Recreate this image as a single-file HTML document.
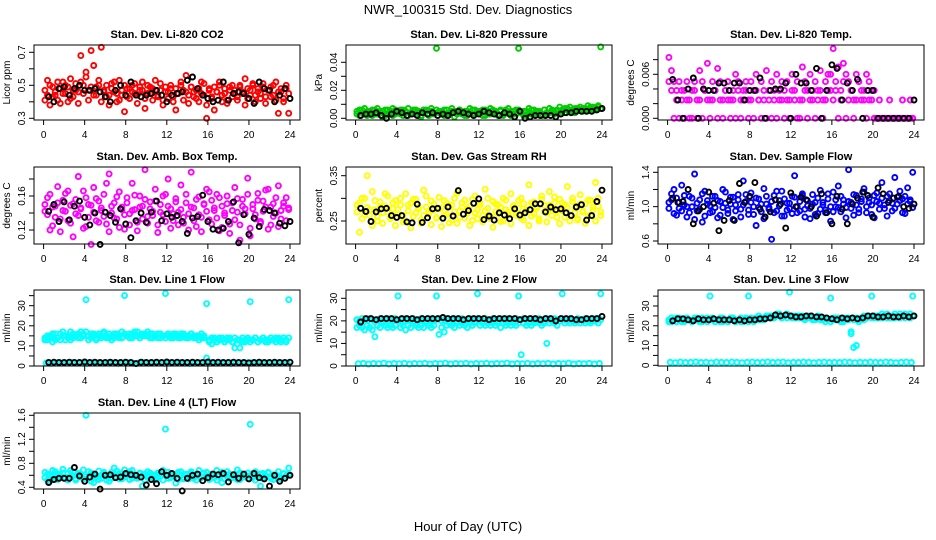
<!DOCTYPE html>
<html><head><meta charset="utf-8">
<style>
html,body{margin:0;padding:0;background:#fff;}
svg{display:block;font-family:"Liberation Sans",Arial,sans-serif;}
</style></head>
<body>
<svg id="chart" width="936" height="540" viewBox="0 0 936 540">
<rect width="936" height="540" fill="#fff"/>
<text x="468" y="14" text-anchor="middle" font-size="13">NWR_100315  Std. Dev. Diagnostics</text>
<text x="468" y="531" text-anchor="middle" font-size="13">Hour of Day (UTC)</text>
</svg>
<script>
const xTicks = [0,4,8,12,16,20,24];
const co2A=[0.47,0.44,0.50,0.43,0.46,0.41,0.48,0.52,0.45,0.49,0.42,0.47,0.51,0.46,0.68,0.50,0.55,0.47,0.71,0.44,0.49,0.53,0.73,0.46,0.50,0.44,0.48,0.52,0.45,0.41,0.47,0.50,0.43,0.48,0.46,0.51,0.44,0.49,0.47,0.42,0.50,0.45,0.48,0.53,0.44,0.47,0.41,0.49,0.46,0.50,0.43,0.48,0.45,0.52,0.47,0.56,0.44,0.49,0.46,0.42,0.48,0.45,0.51,0.30,0.47,0.43,0.49,0.46,0.52,0.44,0.48,0.41,0.47,0.50,0.45,0.43,0.49,0.46,0.54,0.42,0.47,0.50,0.44,0.48,0.45,0.51,0.43,0.47,0.49,0.44,0.52,0.46,0.48,0.42,0.50,0.45];
const co2B=[0.41,0.53,0.38,0.49,0.44,0.52,0.39,0.45,0.50,0.40,0.54,0.43,0.47,0.39,0.52,0.45,0.58,0.41,0.49,0.62,0.44,0.50,0.40,0.47,0.43,0.38,0.51,0.46,0.40,0.53,0.44,0.34,0.48,0.42,0.50,0.45,0.39,0.47,0.52,0.36,0.45,0.49,0.41,0.47,0.43,0.51,0.38,0.46,0.42,0.48,0.40,0.35,0.45,0.50,0.41,0.46,0.39,0.49,0.43,0.47,0.40,0.52,0.44,0.38,0.48,0.42,0.35,0.46,0.50,0.40,0.45,0.39,0.49,0.43,0.47,0.41,0.50,0.45,0.38,0.48,0.44,0.51,0.40,0.46,0.42,0.49,0.39,0.47,0.43,0.50,0.41,0.33,0.46,0.40,0.48,0.33];
const co2K=[0.43,0.40,0.48,0.49,0.44,0.48,0.50,0.47,0.47,0.48,0.46,0.43,0.40,0.47,0.50,0.44,0.52,0.44,0.43,0.44,0.45,0.47,0.44,0.40,0.44,0.45,0.46,0.53,0.55,0.48,0.44,0.42,0.40,0.41,0.52,0.41,0.45,0.46,0.45,0.42,0.39,0.52,0.48,0.47,0.40,0.44,0.48,0.42];
const presA=[0.003,0.006,0.004,0.007,0.002,0.005,0.006,0.003,0.007,0.004,0.005,0.002,0.006,0.004,0.007,0.003,0.005,0.006,0.002,0.004,0.007,0.003,0.005,0.006,0.004,0.002,0.006,0.005,0.003,0.007,0.004,0.050,0.005,0.003,0.006,0.002,0.004,0.007,0.005,0.003,0.006,0.004,0.002,0.005,0.007,0.003,0.006,0.004,0.005,0.002,0.006,0.003,0.007,0.004,0.005,0.003,0.006,0.002,0.004,0.007,0.005,0.003,0.006,0.050,0.004,0.002,0.005,0.007,0.003,0.006,0.004,0.005,0.003,0.006,0.004,0.007,0.005,0.004,0.006,0.008,0.005,0.007,0.006,0.008,0.005,0.007,0.006,0.008,0.007,0.006,0.009,0.007,0.008,0.006,0.009,0.051];
const presB=[0.005,0.002,0.006,0.003,0.005,0.004,0.002,0.006,0.003,0.005,0.001,0.006,0.003,0.005,0.002,0.006,0.004,0.003,0.006,0.005,0.002,0.004,0.006,0.003,0.005,0.001,0.004,0.006,0.002,0.005,0.003,0.006,0.004,0.005,0.002,0.006,0.003,0.005,0.001,0.004,0.006,0.003,0.005,0.002,0.004,0.006,0.003,0.005,0.004,0.006,0.002,0.005,0.003,0.006,0.004,0.002,0.005,0.003,0.006,0.004,0.002,0.005,0.003,0.006,0.004,0.005,0.002,0.004,0.006,0.003,0.005,0.004,0.002,0.006,0.003,0.004,0.006,0.003,0.005,0.004,0.006,0.004,0.007,0.005,0.006,0.004,0.007,0.006,0.005,0.007,0.006,0.008,0.006,0.007,0.008,0.007];
const presK=[0.002,0.003,0.003,0.004,0.002,0.000,0.003,0.005,0.004,0.002,0.003,0.002,0.004,0.003,0.004,0.002,0.003,0.002,0.004,0.005,0.004,0.003,0.002,0.003,0.005,0.004,0.003,0.002,0.004,0.003,0.001,0.005,0.000,0.001,0.002,0.002,0.002,0.002,0.001,0.003,0.004,0.004,0.005,0.005,0.005,0.005,0.006,0.007];
const tempA=[0.0083,0.0065,0.0050,0.0038,0.0050,0.0025,0.0038,0.0050,0.0025,0.0038,0.0050,0.0025,0.0065,0.0050,0.0038,0.0075,0.0025,0.0050,0.0038,0.0068,0.0050,0.0025,0.0038,0.0050,0.0025,0.0038,0.0060,0.0050,0.0025,0.0038,0.0050,0.0025,0.0050,0.0038,0.0060,0.0025,0.0050,0.0038,0.0065,0.0025,0.0050,0.0038,0.0060,0.0025,0.0050,0.0038,0.0050,0.0025,0.0060,0.0038,0.0050,0.0025,0.0070,0.0050,0.0038,0.0060,0.0025,0.0050,0.0038,0.0065,0.0025,0.0050,0.0060,0.0038,0.0095,0.0050,0.0070,0.0038,0.0075,0.0060,0.0050,0.0038,0.0025,0.0060,0.0050,0.0038,0.0025,0.0060,0.0050,0.0025,0.0038,0,0.0025,0,0,0,0.0025,0,0,0,0,0,0,0,0.0025,0];
const tempB=[0.0050,0.0038,0,0.0025,0,0.0038,0,0.0025,0,0,0.0038,0,0.0025,0,0.0038,0.0025,0,0.0025,0.0038,0,0.0025,0,0.0038,0.0025,0,0.0025,0,0.0038,0,0.0025,0.0038,0,0.0025,0,0.0038,0.0025,0,0.0025,0,0.0038,0,0.0025,0,0.0038,0.0025,0,0.0025,0,0.0038,0.0025,0,0,0.0025,0.0038,0,0.0025,0.0038,0,0.0025,0.0038,0,0.0025,0.0038,0.0060,0.0025,0.0038,0,0.0025,0.0050,0,0.0025,0.0038,0,0.0025,0.0050,0.0025,0.0038,0,0.0025,0.0038,0,0,0,0,0,0,0,0,0,0,0,0.0025,0,0,0,0];
const tempK=[0.0053,0.0025,0,0.0040,0.0055,0,0.0040,0.0038,0.0038,0.0048,0.0048,0.0038,0.0048,0.0048,0.0025,0.0038,0.0038,0.0055,0,0.0038,0.0040,0.0040,0.0048,0,0.0060,0.0048,0.0048,0.0038,0.0068,0,0.0038,0.0073,0.0068,0.0025,0.0048,0.0038,0.0053,0,0.0038,0.0038,0,0,0,0,0,0,0,0.0025];
const ambA=[0.150,0.138,0.162,0.125,0.148,0.171,0.133,0.155,0.142,0.166,0.128,0.151,0.139,0.183,0.146,0.122,0.158,0.135,0.149,0.170,0.131,0.154,0.143,0.162,0.127,0.186,0.140,0.152,0.133,0.165,0.147,0.121,0.158,0.139,0.175,0.144,0.129,0.160,0.148,0.191,0.136,0.153,0.142,0.168,0.126,0.150,0.138,0.162,0.180,0.145,0.131,0.157,0.141,0.173,0.128,0.152,0.139,0.188,0.146,0.124,0.159,0.135,0.150,0.168,0.132,0.155,0.143,0.162,0.119,0.148,0.137,0.160,0.127,0.152,0.170,0.141,0.108,0.156,0.145,0.181,0.122,0.150,0.138,0.163,0.130,0.154,0.147,0.168,0.126,0.151,0.140,0.172,0.133,0.148,0.158,0.144];
const ambB=[0.142,0.158,0.120,0.147,0.135,0.152,0.118,0.143,0.163,0.131,0.149,0.112,0.156,0.137,0.145,0.166,0.124,0.150,0.103,0.141,0.157,0.129,0.146,0.136,0.175,0.118,0.148,0.134,0.159,0.123,0.144,0.138,0.152,0.126,0.143,0.161,0.119,0.147,0.133,0.156,0.128,0.145,0.137,0.154,0.117,0.141,0.160,0.130,0.148,0.122,0.139,0.153,0.126,0.144,0.135,0.162,0.120,0.147,0.131,0.156,0.138,0.118,0.151,0.142,0.165,0.127,0.146,0.134,0.158,0.123,0.140,0.151,0.116,0.143,0.132,0.157,0.126,0.148,0.139,0.162,0.113,0.145,0.133,0.155,0.128,0.142,0.167,0.121,0.147,0.136,0.158,0.124,0.143,0.152,0.131,0.146];
const ambK=[0.142,0.150,0.130,0.153,0.132,0.148,0.154,0.135,0.126,0.140,0.103,0.141,0.137,0.129,0.145,0.127,0.111,0.131,0.140,0.129,0.141,0.154,0.131,0.139,0.135,0.137,0.130,0.116,0.134,0.136,0.161,0.130,0.121,0.120,0.122,0.130,0.153,0.105,0.138,0.115,0.134,0.124,0.144,0.143,0.140,0.128,0.125,0.130];
const rhA=[0.270,0.290,0.255,0.300,0.280,0.262,0.315,0.275,0.250,0.292,0.268,0.283,0.305,0.258,0.277,0.295,0.265,0.285,0.248,0.310,0.272,0.289,0.260,0.298,0.276,0.252,0.318,0.281,0.266,0.294,0.274,0.256,0.302,0.279,0.263,0.290,0.246,0.285,0.270,0.312,0.258,0.280,0.296,0.267,0.283,0.251,0.305,0.274,0.290,0.262,0.320,0.278,0.255,0.293,0.270,0.286,0.249,0.300,0.275,0.263,0.310,0.282,0.268,0.295,0.256,0.288,0.273,0.330,0.261,0.292,0.278,0.250,0.305,0.284,0.267,0.315,0.275,0.290,0.258,0.298,0.272,0.286,0.326,0.264,0.293,0.279,0.252,0.308,0.270,0.288,0.261,0.296,0.274,0.335,0.283,0.262];
const rhB=[0.285,0.225,0.300,0.265,0.350,0.275,0.240,0.295,0.260,0.280,0.245,0.310,0.270,0.255,0.290,0.240,0.275,0.300,0.262,0.250,0.285,0.235,0.298,0.268,0.280,0.245,0.262,0.305,0.270,0.242,0.288,0.258,0.276,0.238,0.295,0.265,0.282,0.252,0.300,0.245,0.272,0.290,0.256,0.278,0.240,0.298,0.268,0.255,0.285,0.248,0.272,0.300,0.260,0.236,0.288,0.266,0.280,0.250,0.296,0.270,0.244,0.284,0.262,0.278,0.300,0.252,0.275,0.240,0.290,0.266,0.282,0.255,0.298,0.270,0.248,0.285,0.262,0.303,0.272,0.244,0.290,0.258,0.280,0.250,0.300,0.268,0.255,0.288,0.272,0.245,0.296,0.263,0.281,0.250,0.300,0.270];
const rhK=[0.278,0.271,0.249,0.270,0.277,0.278,0.262,0.258,0.262,0.248,0.246,0.287,0.247,0.257,0.277,0.278,0.256,0.281,0.261,0.317,0.265,0.273,0.289,0.299,0.253,0.261,0.252,0.268,0.263,0.255,0.277,0.263,0.268,0.275,0.288,0.288,0.270,0.281,0.275,0.277,0.268,0.262,0.281,0.286,0.252,0.262,0.293,0.318];
const flowA=[1.05,1.15,0.92,1.10,0.98,1.25,1.02,0.88,1.12,1.00,1.38,0.95,1.08,0.82,1.18,1.03,0.93,1.12,0.99,1.07,0.90,1.20,1.04,0.96,1.11,0.85,1.02,1.14,0.97,1.30,1.06,0.91,1.16,1.00,0.78,1.09,0.94,1.21,1.03,0.99,0.62,1.13,0.95,1.07,1.18,0.89,1.04,0.98,1.12,1.36,0.93,1.06,1.15,0.97,1.01,0.86,1.14,1.05,0.92,1.19,1.02,0.96,1.09,0.83,1.17,1.00,1.24,0.94,1.08,0.99,1.43,1.05,0.90,1.13,0.97,1.06,1.21,0.93,1.10,1.02,0.87,1.16,1.04,1.28,0.98,1.12,1.07,0.95,1.34,1.03,1.18,1.09,0.92,1.22,1.06,1.40];
const flowB=[0.98,1.08,1.20,0.90,1.05,0.95,1.13,1.00,0.93,1.10,0.85,1.04,0.97,1.15,0.89,1.07,1.01,0.94,1.12,0.87,1.06,0.99,1.17,0.92,1.03,1.11,0.95,1.08,0.88,1.02,1.14,0.96,1.05,0.91,1.10,0.99,1.03,0.86,1.12,0.97,1.06,0.93,1.18,1.01,0.89,1.09,0.96,1.04,0.92,1.11,1.00,0.95,1.13,0.88,1.07,0.98,1.03,0.91,1.10,0.97,1.05,0.93,1.15,1.00,0.94,1.08,0.99,1.12,1.03,0.87,1.06,0.98,1.14,1.02,0.93,1.09,1.17,1.00,1.05,0.91,1.13,1.06,0.97,1.10,1.02,0.89,1.15,1.04,0.98,1.11,1.07,0.93,1.12,1.03,1.08,0.99];
const flowK=[1.10,1.05,1.06,1.20,0.80,0.95,1.00,1.17,1.04,0.72,0.84,1.07,0.84,1.27,1.05,1.12,1.28,0.97,0.88,0.94,1.08,1.03,0.75,1.16,1.00,1.11,1.08,1.00,0.89,1.15,0.93,0.80,1.12,0.97,0.80,1.03,1.10,1.17,1.13,0.88,1.22,1.15,1.05,1.10,1.12,1.00,0.98,1.03];
const l1A=[13,15,14,12,16,14,13,17,15,14,13,16,15,14,17,16,33,15,14,16,13,15,14,16,15,14,13,16,15,14,17,35,15,16,14,17,15,14,16,15,17,16,14,15,16,14,15,36,15,14,16,15,14,16,15,14,15,16,14,15,13,14,15,31,13,11,14,12,13,14,12,13,14,12,9,11,13,14,12,13,32,13,14,12,13,14,13,12,14,13,14,13,12,14,13,33];
const l1B=[14,13,15,16,13,14,16,15,13,15,17,14,15,16,14,15,17,13,16,15,14,16,15,17,14,16,15,14,16,15,14,16,15,14,16,15,17,14,15,16,15,14,16,15,14,16,15,14,16,15,14,16,15,14,16,15,14,16,15,14,15,16,14,4,12,14,13,12,14,13,12,14,13,12,14,13,9,12,13,14,12,13,14,12,13,14,12,13,14,13,12,14,13,14,12,14];
const l1C=[1.5,1.3,1.6,1.4,1.5,1.7,1.4,1.5,1.3,1.6,1.5,1.4,1.6,1.5,1.3,1.5,1.6,1.4,1.5,1.7,1.4,1.5,1.6,1.3,1.5,1.4,1.6,1.5,1.3,1.5,1.6,1.4,1.5,1.4,1.6,1.5,1.3,1.5,1.4,1.6,1.5,1.4,1.6,1.5,1.3,1.5,1.6,1.4];
const l1K=[1.8,1.9,1.8,1.8,1.9,1.8,1.8,2.0,1.8,1.9,1.8,1.8,1.9,1.8,1.8,1.9,1.8,1.2,1.9,1.8,1.8,1.9,1.8,2.0,1.8,1.9,1.8,1.8,1.9,1.8,1.8,2.0,1.8,1.9,1.8,1.8,1.9,1.8,1.8,1.6,1.8,1.9,1.8,1.8,1.9,1.8,1.8,1.9];
const l2A=[17,18,17,16,18,17,16,13,18,17,19,18,17,18,17,18,31,17,18,16,18,17,19,18,17,18,17,19,18,17,18,31,14,17,15,18,19,18,17,19,18,19,18,17,19,18,19,32,18,19,18,19,18,19,18,19,17,19,18,19,18,19,18,31,5,19,18,19,18,19,20,19,18,19,10,19,20,19,18,20,32,19,20,19,20,19,20,19,20,19,20,19,20,20,19,32];
const l2B=[20.5,20,21,20.5,20,21,20.5,19.5,20.5,21,20,20.5,21,20,20.5,21,20,20.5,19.5,21,20.5,20,21,20.5,20,21,20.5,20,21,20.5,20,20.5,21,20,20.5,21,20,20.5,21,20,20.5,21,20.5,20,21,20.5,20,21,20.5,20,21,20.5,20,21,20.5,20,21,20.5,20,21,20.5,20,21,19,20.5,21,20.5,20,21,20.5,20,21,20.5,20,21,20.5,20,21,20.5,20,21,20.5,20,21,20.5,20,21,20.5,20,21,20.5,20,21,20.5,21,20.5];
const l2C=[1.0,1.2,0.9,1.1,1.0,1.3,0.9,1.1,1.0,1.2,0.9,1.1,1.0,1.2,0.9,1.1,1.0,1.3,0.9,1.1,1.0,1.2,0.9,1.1,1.0,1.2,0.9,1.1,1.0,1.3,0.9,1.1,1.0,1.2,0.9,1.1,1.0,1.2,0.9,1.1,1.0,1.3,0.9,1.1,1.0,1.2,0.9,1.1];
const l2K=[19.5,21,21,20.5,21,21,21,20.5,21,21,21,20.5,21,21,21,21,21.5,21,21,21,20.5,21,21,21,21,20.5,21,21,21,21,21,20.5,21,21,21,20.5,21,21,20,21,21,21,20.5,20.5,21,21,21,22];
const l3A=[23,22,23,24,23,22,23,24,23,22,23,24,23,22,23,24,35,23,22,23,24,22,23,22,23,24,22,23,22,23,24,35,23,22,24,23,24,23,24,25,24,25,26,25,24,25,26,37,25,24,25,24,25,24,25,24,23,24,25,24,23,24,23,34,23,24,23,22,23,24,23,17,9,10,23,24,25,24,25,35,25,24,25,24,25,26,24,25,24,25,26,25,24,25,26,35];
const l3B=[22,24,23,22,24,23,22,24,23,22,24,23,22,24,23,22,23,24,22,23,22,24,23,22,24,23,22,23,24,22,23,22,24,23,24,25,23,24,25,24,25,24,25,26,24,25,24,25,24,25,24,25,24,23,24,25,24,23,24,23,24,22,23,22,24,23,24,23,22,23,24,16,23,24,22,24,23,24,25,24,24,25,24,26,25,24,25,24,26,25,24,25,26,25,24,25];
const l3C=[1.5,1.3,1.6,1.4,1.5,1.7,1.4,1.5,1.3,1.6,1.5,1.4,1.6,1.5,1.3,1.5,1.6,1.4,1.5,1.7,1.4,1.5,1.6,1.3,1.5,1.4,1.6,1.5,1.3,1.5,1.6,1.4,1.5,1.4,1.6,1.5,1.3,1.5,1.4,1.6,1.5,1.4,1.6,1.5,1.3,1.5,1.6,1.4];
const l3K=[22.5,23.5,23.5,23,22.5,23.5,23,23,23.5,23,23,23,22.5,23,22.5,23,23,23.5,23.5,24,25.5,25,25.5,25,24.5,24.5,25,25,24.5,24.5,24,23.5,23,24,23.5,24,23.5,24,25,25,24.5,24.5,25,24.5,24.5,25,24.5,25];
const l4A=[0.65,0.52,0.60,0.68,0.55,0.62,0.58,0.70,0.54,0.63,0.59,0.66,0.52,0.61,0.57,0.69,1.60,0.56,0.64,0.48,0.60,0.67,0.55,0.62,0.58,0.50,0.65,0.72,0.57,0.63,0.54,0.69,0.60,0.66,0.55,0.61,0.58,0.64,0.42,0.62,0.66,0.56,0.60,0.52,0.64,0.58,0.68,1.37,0.55,0.63,0.59,0.47,0.65,0.60,0.54,0.62,0.58,0.66,0.55,0.61,0.68,0.57,0.63,0.65,0.53,0.60,0.56,0.68,0.58,0.48,0.62,0.66,0.55,0.60,0.57,0.69,0.53,0.62,0.58,0.64,1.45,0.56,0.66,0.60,0.42,0.63,0.57,0.65,0.55,0.61,0.58,0.66,0.54,0.62,0.59,0.72];
const l4B=[0.56,0.62,0.50,0.58,0.66,0.53,0.60,0.64,0.57,0.52,0.68,0.59,0.55,0.63,0.61,0.54,0.58,0.66,0.50,0.62,0.57,0.53,0.60,0.65,0.52,0.59,0.55,0.62,0.67,0.54,0.60,0.57,0.63,0.53,0.68,0.58,0.55,0.62,0.59,0.52,0.57,0.64,0.54,0.61,0.56,0.63,0.52,0.60,0.65,0.56,0.58,0.62,0.53,0.66,0.57,0.60,0.54,0.63,0.58,0.52,0.61,0.56,0.64,0.59,0.55,0.62,0.57,0.52,0.60,0.65,0.54,0.58,0.62,0.56,0.60,0.53,0.64,0.57,0.61,0.55,0.59,0.63,0.52,0.58,0.62,0.55,0.60,0.64,0.57,0.53,0.61,0.58,0.56,0.63,0.59,0.62];
const l4K=[0.48,0.53,0.55,0.55,0.55,0.73,0.59,0.50,0.57,0.62,0.37,0.60,0.61,0.56,0.57,0.63,0.61,0.60,0.57,0.44,0.53,0.46,0.66,0.60,0.63,0.55,0.34,0.55,0.60,0.62,0.51,0.56,0.62,0.61,0.63,0.49,0.61,0.55,0.62,0.54,0.63,0.56,0.54,0.42,0.60,0.50,0.55,0.60];

const co2Ticks=[0.3,0.4,0.5,0.6,0.7], co2Labels=["0.3","","0.5","","0.7"];
const presTicks=[0,0.01,0.02,0.03,0.04], presLabels=["0.00","","0.02","","0.04"];
const tempTicks=[0,0.002,0.004,0.006,0.008], tempLabels=["0.000","","","0.006",""];
const ambTicks=[0.12,0.14,0.16,0.18], ambLabels=["0.12","","0.16",""];
const rhTicks=[0.25,0.30,0.35], rhLabels=["0.25","","0.35"];
const flowTicks=[0.6,0.8,1.0,1.2,1.4], flowLabels=["0.6","","1.0","","1.4"];
const l1Ticks=[0,5,10,15,20,25,30,35], l1Labels=["0","","10","","20","","30",""];
const l2Ticks=[0,5,10,15,20,25,30], l2Labels=["0","","10","","20","","30"];
const l3Ticks=[0,5,10,15,20,25,30,35], l3Labels=["0","","10","","20","","30",""];
const l4Ticks=[0.4,0.6,0.8,1.0,1.2,1.4,1.6], l4Labels=["0.4","","0.8","","1.2","","1.6"];

const cols=[[34,300],[346,612],[658,924]];
const rows=[[45,120],[167,244],[290,366],[413,489]];
const panels=[
 {name:"co2",title:"Stan. Dev. Li-820 CO2",yl:"Licor ppm",c:0,r:0,v0:0.3,p0:118.3,v1:0.7,p1:52.3,ticks:co2Ticks,labels:co2Labels,color:"#ff0000",series:[co2A,co2B],black:co2K},
 {name:"pressure",title:"Stan. Dev. Li-820 Pressure",yl:"kPa",c:1,r:0,v0:0,p0:118.3,v1:0.04,p1:62.3,ticks:presTicks,labels:presLabels,color:"#00cd00",series:[presA,presB],black:presK},
 {name:"licor-temp",title:"Stan. Dev. Li-820 Temp.",yl:"degrees C",c:2,r:0,v0:0,p0:118.3,v1:0.006,p1:74.3,ticks:tempTicks,labels:tempLabels,color:"#ff00ff",series:[tempA,tempB],black:tempK},
 {name:"amb-box-temp",title:"Stan. Dev. Amb. Box Temp.",yl:"degrees C",c:0,r:1,v0:0.12,p0:230,v1:0.16,p1:196,ticks:ambTicks,labels:ambLabels,color:"#ff00ff",series:[ambA,ambB],black:ambK},
 {name:"gas-rh",title:"Stan. Dev. Gas Stream RH",yl:"percent",c:1,r:1,v0:0.25,p0:221,v1:0.35,p1:175.7,ticks:rhTicks,labels:rhLabels,color:"#ffff00",series:[rhA,rhB],black:rhK},
 {name:"sample-flow",title:"Stan. Dev. Sample Flow",yl:"ml/min",c:2,r:1,v0:0.6,p0:241,v1:1.4,p1:172.3,ticks:flowTicks,labels:flowLabels,color:"#0000ff",series:[flowA,flowB],black:flowK},
 {name:"line1-flow",title:"Stan. Dev. Line 1 Flow",yl:"ml/min",c:0,r:2,v0:0,p0:366,v1:30,p1:305.7,ticks:l1Ticks,labels:l1Labels,color:"#00ffff",series:[l1A,l1B,l1C],black:l1K},
 {name:"line2-flow",title:"Stan. Dev. Line 2 Flow",yl:"ml/min",c:1,r:2,v0:0,p0:366,v1:30,p1:298.3,ticks:l2Ticks,labels:l2Labels,color:"#00ffff",series:[l2A,l2B,l2C],black:l2K},
 {name:"line3-flow",title:"Stan. Dev. Line 3 Flow",yl:"ml/min",c:2,r:2,v0:0,p0:365.3,v1:30,p1:306,ticks:l3Ticks,labels:l3Labels,color:"#00ffff",series:[l3A,l3B,l3C],black:l3K},
 {name:"line4-flow",title:"Stan. Dev. Line 4 (LT) Flow",yl:"ml/min",c:0,r:3,v0:0.4,p0:487.3,v1:1.6,p1:415.3,ticks:l4Ticks,labels:l4Labels,color:"#00ffff",series:[l4A,l4B],black:l4K}
];
const NS="http://www.w3.org/2000/svg";
const svg=document.getElementById("chart");
function mk(tag,attrs,parent){const e=document.createElementNS(NS,tag);for(const k in attrs)e.setAttribute(k,attrs[k]);parent.appendChild(e);return e;}
panels.forEach(p=>{
  const [x0,x1]=cols[p.c],[y0,y1]=rows[p.r];
  const g=mk("g",{},svg);
  
  
  const xs=h=>x0+9.6+(h/24)*(x1-x0-19.6);
  const ys=v=>p.p0+(v-p.v0)*(p.p1-p.p0)/(p.v1-p.v0);
  const t=mk("text",{x:(x0+x1)/2,y:y0-7,"text-anchor":"middle","font-size":"11","font-weight":"bold"},g);
  t.textContent=p.title;
  
  
  const pts=mk("g",{fill:"none","stroke-width":"1.9"},g);
  
  
  p.series.forEach(arr=>{
    arr.forEach((v,i)=>{
      const c=mk("circle",{cx:xs((i+0.5)*24/arr.length).toFixed(1),cy:ys(v).toFixed(1),r:2.5,stroke:p.color},pts);
      
      
    });
  });
  p.black.forEach((v,i)=>{
    const c=mk("circle",{cx:xs((i+1)*24/p.black.length).toFixed(1),cy:ys(v).toFixed(1),r:2.5,stroke:"#000"},pts);
    
    
  });
  const box=mk("rect",{x:x0,y:y0,width:x1-x0,height:y1-y0,fill:"none",stroke:"#000","stroke-width":"1"},g);
  
  
  const xa=mk("g",{},g);
  
  
  mk("line",{x1:xs(0),x2:xs(24),y1:y1,y2:y1,stroke:"#000"},xa);
  xTicks.forEach(h=>{
    mk("line",{x1:xs(h),x2:xs(h),y1:y1,y2:y1+5,stroke:"#000"},xa);
    const tl=mk("text",{x:xs(h),y:y1+18,"text-anchor":"middle","font-size":"10"},xa);
    tl.textContent=h;
    
    
  });
  const ya=mk("g",{},g);
  
  
  mk("line",{x1:x0,x2:x0,y1:ys(p.ticks[0]),y2:ys(p.ticks[p.ticks.length-1]),stroke:"#000"},ya);
  p.ticks.forEach((v,i)=>{
    const y=ys(v);
    mk("line",{x1:x0-5,x2:x0,y1:y,y2:y,stroke:"#000"},ya);
    if(p.labels[i]){
      const tl=mk("text",{x:x0-9,y:y,"text-anchor":"middle","font-size":"10",transform:`rotate(-90 ${x0-9} ${y})`},ya);
      tl.textContent=p.labels[i];
      
      
    }
  });
  const cy=(y0+y1)/2;
  const yl=mk("text",{x:x0-24,y:cy,"text-anchor":"middle","font-size":"10",transform:`rotate(-90 ${x0-24} ${cy})`},ya);
  yl.textContent=p.yl;
  
  
});
</script>
</body></html>
